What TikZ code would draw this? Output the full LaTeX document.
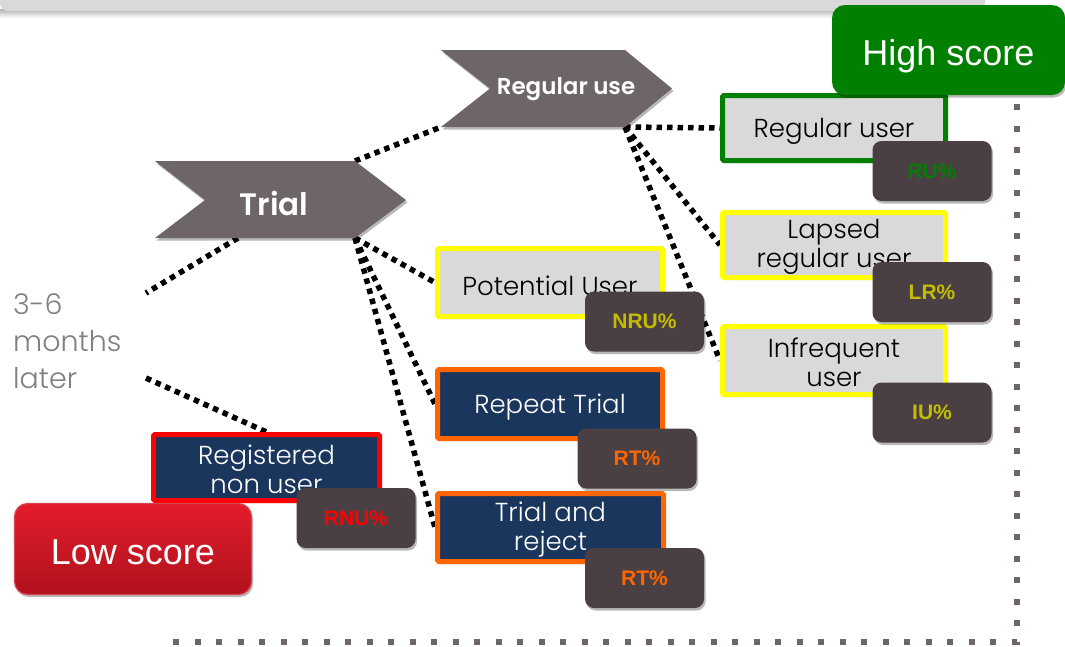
\documentclass[tikz,border=0pt]{standalone}
\usepackage{fontspec}
\setmainfont{Liberation Sans}
\newfontfamily\lightfont{Poppins}[UprightFont={* Light}]
\newfontfamily\semifont{Poppins}[UprightFont={* SemiBold}]
\usetikzlibrary{shadows,backgrounds}

\definecolor{chevgrey}{HTML}{6E6566}
\definecolor{navy}{HTML}{1B365D}
\definecolor{boxgrey}{HTML}{D9D9D9}
\definecolor{badgegrey}{HTML}{4A4044}
\definecolor{scoregreen}{HTML}{007F00}
\definecolor{hiyellow}{HTML}{FFFF00}
\definecolor{oliveyellow}{HTML}{C4BC00}
\definecolor{hiorange}{HTML}{FF6600}
\definecolor{hired}{HTML}{FF0000}
\definecolor{lowtop}{HTML}{E31C2C}
\definecolor{lowbottom}{HTML}{B0121D}
\definecolor{lowedge}{HTML}{D94451}
\definecolor{labelgrey}{HTML}{808080}
\definecolor{bargrey}{HTML}{D9D9D9}

\tikzset{
  soft/.style={drop shadow={shadow xshift=1.5pt, shadow yshift=-2.5pt, opacity=0.28, fill=black}},
  dots/.style={line width=5.5pt, dash pattern=on 5.5pt off 5pt, black},
  framedots/.style={line width=6pt, dash pattern=on 6pt off 15.5pt, chevgrey},
  chev/.style={fill=chevgrey, soft},
  chevtext/.style={text=white, inner sep=0pt},
  box/.style={rectangle, rounded corners=1.5pt, line width=5pt, minimum width=225pt,
    minimum height=67pt, inner sep=0pt, soft},
  greybox/.style={box, fill=boxgrey},
  navybox/.style={box, fill=navy},
  boxtext/.style={inner sep=0pt, align=center, font=\lightfont\fontsize{26}{29}\selectfont},
  badge/.style={rectangle, rounded corners=9pt, fill=badgegrey, minimum width=119pt,
    minimum height=60pt, inner sep=0pt, soft, font=\bfseries\fontsize{21}{21}\selectfont},
  score/.style={rectangle, rounded corners=13pt, minimum height=90pt, inner sep=0pt,
    text height=30pt, text depth=0pt, text=white, soft, font=\fontsize{36}{36}\selectfont},
}

\begin{document}
\begin{tikzpicture}[x=1pt,y=-1pt]
\useasboundingbox (0,0) rectangle (1065,646);

% header strip along the top edge
\shade[top color=gray!60, bottom color=white] (0,9) rectangle (988,18);
\fill[bargrey, rounded corners=8pt] (0,-12) rectangle (985,11);

% dotted frame on the right and bottom
\draw[framedots] (1017,104) -- (1017,642) -- (165,642);

% chevron corners
\coordinate (trNW) at (155,161);
\coordinate (trNE) at (355,161);
\coordinate (trTip) at (406,200);
\coordinate (trSE) at (355,238);
\coordinate (trSW) at (155,238);
\coordinate (trNotch) at (205,200);
\coordinate (trBot) at (238,238);
\coordinate (ruNW) at (441,50);
\coordinate (ruNE) at (625,50);
\coordinate (ruTip) at (672,88.5);
\coordinate (ruSE) at (625,127);
\coordinate (ruSW) at (441,127);
\coordinate (ruNotch) at (490,88.5);

% time label and the ends of its links
\node[font=\lightfont\fontsize{28.5}{37}\selectfont, text=labelgrey, align=left,
      anchor=west, inner sep=0pt] (later) at (13,341) {3-6\\months\\later};
\coordinate (laterTop) at (146,293);
\coordinate (laterBot) at (146,378);

% outcome boxes
\node[greybox, draw=scoregreen, minimum width=223pt, minimum height=65pt] (reguser) at (834,128) {};
\node[greybox, draw=hiyellow, minimum width=223pt, minimum height=65pt] (lapsed) at (834,245) {};
\node[greybox, draw=hiyellow, minimum width=223pt, minimum height=68pt] (infreq) at (834,360.5) {};
\node[greybox, draw=hiyellow, minimum height=68pt] (potential) at (550,282.5) {};
\node[navybox, draw=hiorange, minimum height=69pt] (repeat) at (550,404) {};
\node[navybox, draw=hiorange, minimum width=226pt, minimum height=68pt] (reject) at (550.5,527.5) {};
\node[navybox, draw=hired, minimum width=226pt, minimum height=66pt] (registered) at (266.5,467.5) {};

% box labels
\node[boxtext, text=black] (reguserT) at ([yshift=-3pt]reguser.center) {Regular user};
\node[boxtext, text=black] (lapsedT) at ([yshift=-2pt]lapsed.center) {Lapsed\\regular user};
\node[boxtext, text=black] (infreqT) at ([yshift=-2pt]infreq.center) {Infrequent\\user};
\node[boxtext, text=black] (potentialT) at ([yshift=-3pt]potential.center) {Potential User};
\node[boxtext, text=white] (repeatT) at ([yshift=-3pt]repeat.center) {Repeat Trial};
\node[boxtext, text=white] (rejectT) at ([yshift=-2pt]reject.center) {Trial and\\reject};
\node[boxtext, text=white] (registeredT) at ([yshift=-2pt]registered.center) {Registered\\non user};

% links, kept beneath the shapes
\begin{scope}[on background layer]
\draw[dots] (trNE) -- (ruSW);
\draw[dots] (ruSE) -- (reguser.west);
\draw[dots] (ruSE) -- (lapsed.west);
\draw[dots] (ruSE) -- (infreq.west);
\draw[dots] (trSE) -- (potential.west);
\draw[dots] (trSE) -- (repeat.west);
\draw[dots] (trSE) -- (reject.west);
\draw[dots] (trBot) -- (laterTop);
\draw[dots] (laterBot) -- (registered.north);
\end{scope}

% stage chevrons
\fill[chev] (trNW) -- (trNE) -- (trTip) -- (trSE) -- (trSW) -- (trNotch) -- cycle;
\node[chevtext, font=\semifont\fontsize{31}{31}\selectfont] (trial) at (274,203) {Trial};
\fill[chev] (ruNW) -- (ruNE) -- (ruTip) -- (ruSE) -- (ruSW) -- (ruNotch) -- cycle;
\node[chevtext, font=\semifont\fontsize{23}{23}\selectfont] (reguse) at (566,89) {Regular use};

% share badges
\node[badge, text=scoregreen] (ru) at (932,171) {RU\%};
\node[badge, text=oliveyellow] (lr) at (932,292) {LR\%};
\node[badge, text=oliveyellow] (iu) at (932,412.5) {IU\%};
\node[badge, text=oliveyellow] (nru) at (644.5,321.5) {NRU\%};
\node[badge, text=hiorange] (rt1) at (637,458.5) {RT\%};
\node[badge, text=hiorange] (rt2) at (644.5,578) {RT\%};
\node[badge, text=hired] (rnu) at (356,518) {RNU\%};

% score markers
\node[score, fill=scoregreen, minimum width=233pt] (high) at (948.5,50) {High score};
\node[score, top color=lowtop, bottom color=lowbottom, draw=lowedge, line width=1.2pt,
      minimum width=237pt, minimum height=91pt] (low) at (133,549) {Low score};
\end{tikzpicture}
\end{document}
